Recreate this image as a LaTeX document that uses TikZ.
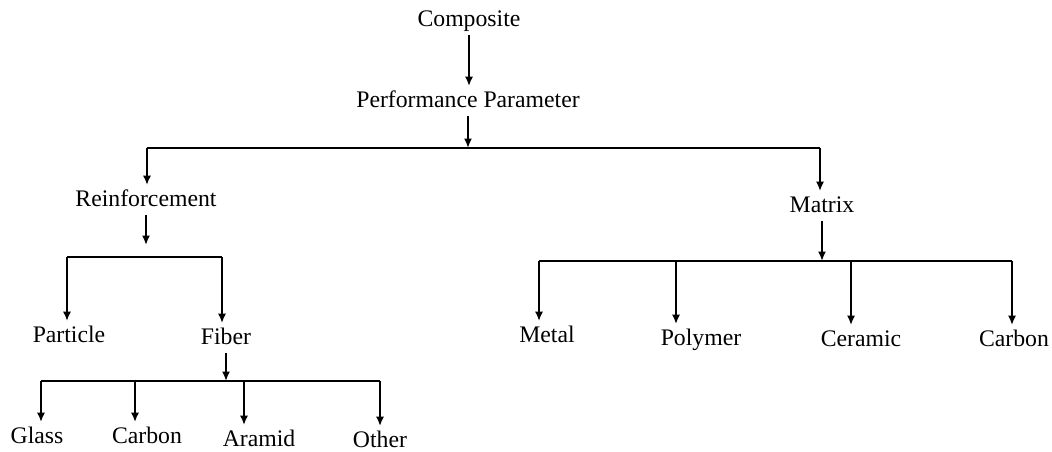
\documentclass[tikz,border=0pt]{standalone}
\usepackage{fontspec}
\setmainfont{Liberation Serif}
\usetikzlibrary{arrows.meta, positioning, calc}

\begin{document}
\begin{tikzpicture}[
    x=0.75pt, y=-0.75pt,
    label/.style={text height=1em, text depth=0em, inner xsep=2pt, inner ysep=6pt, font=\fontsize{17.8}{20}\selectfont},
    line/.style={line width=1.7pt},
    arrow/.style={line width=1.7pt, -{Latex[length=7pt,width=6pt]}}
]
    \useasboundingbox (0,0) rectangle (1052,452);

    % top levels
    \node (comp) [label] at (469,20) {Composite};
    \node (perf) [label] at (468,101) {Performance Parameter};
    \node (reinf) [label] at (146,200) {Reinforcement};
    \node (matrix) [label] at (822,206) {Matrix};

    % reinforcement branch
    \node (particle) [label] at (69,336) {Particle};
    \node (fiber) [label] at (226,338) {Fiber};
    \node (glass) [label] at (37,437) {Glass};
    \node (fcarbon) [label] at (147,437) {Carbon};
    \node (aramid) [label] at (259,440) {Aramid};
    \node (other) [label] at (380,441) {Other};

    % matrix branch
    \node (metal) [label] at (547,336) {Metal};
    \node (polymer) [label] at (701,339) {Polymer};
    \node (ceramic) [label] at (861,340) {Ceramic};
    \node (mcarbon) [label] at (1014,340) {Carbon};

    % bars
    \coordinate (b1l) at (147,148);
    \coordinate (b1r) at (820,148);
    \coordinate (b2l) at (67,257);
    \coordinate (b2r) at (222,257);
    \coordinate (b3l) at (41,381);
    \coordinate (b3r) at (380,381);
    \coordinate (b4l) at (539,261);
    \coordinate (b4r) at (1012,261);
    \coordinate (t3a) at (135,381);
    \coordinate (t3b) at (244,381);
    \coordinate (t4a) at (676,261);
    \coordinate (t4b) at (851,261);

    \draw [line] (b1l) -- (b1r);
    \draw [line] (b2l) -- (b2r);
    \draw [line] (b3l) -- (b3r);
    \draw [line] (b4l) -- (b4r);

    \draw [arrow] (comp) -- (comp |- perf.north);
    \draw [arrow] (perf) -- (perf |- b1l);
    \draw [arrow] (b1l) -- (b1l |- reinf.north);
    \draw [arrow] (b1r) -- (b1r |- matrix.north);

    \draw [arrow, shorten >=9pt] (reinf) -- (reinf |- b2l);
    \draw [arrow] (b2l) -- (b2l |- particle.north);
    \draw [arrow] (b2r) -- (b2r |- fiber.north);

    \draw [arrow] (fiber) -- (fiber |- b3l);
    \draw [arrow] (b3l) -- (b3l |- glass.north);
    \draw [arrow] (t3a) -- (t3a |- fcarbon.north);
    \draw [arrow] (t3b) -- (t3b |- aramid.north);
    \draw [arrow] (b3r) -- (b3r |- other.north);

    \draw [arrow] (matrix) -- (matrix |- b4l);
    \draw [arrow] (b4l) -- (b4l |- metal.north);
    \draw [arrow] (t4a) -- (t4a |- polymer.north);
    \draw [arrow] (t4b) -- (t4b |- ceramic.north);
    \draw [arrow] (b4r) -- (b4r |- mcarbon.north);
\end{tikzpicture}
\end{document}
